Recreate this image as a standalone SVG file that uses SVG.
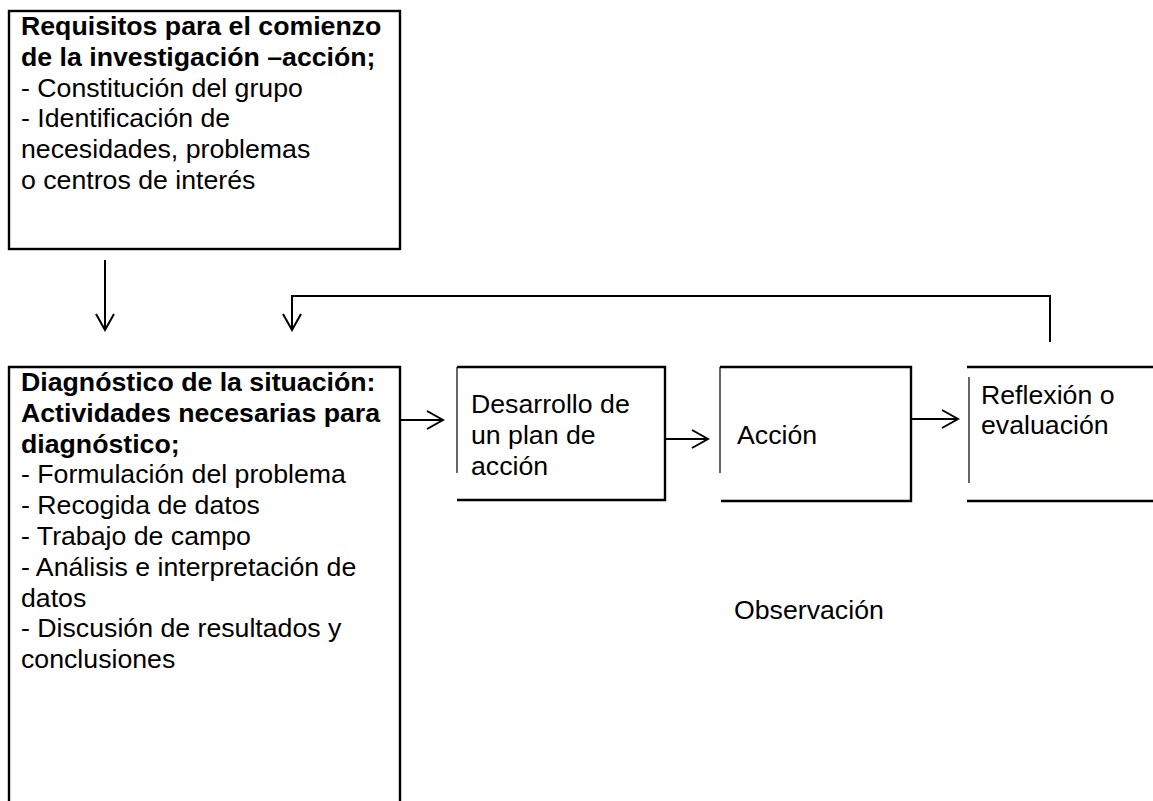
<svg xmlns="http://www.w3.org/2000/svg" width="1153" height="801" viewBox="0 0 1153 801">
  <style>
    .bg { fill: #ffffff; }
    .edge { fill: none; stroke: #000; stroke-width: 2.4; }
    .thin { fill: none; stroke: #000; stroke-width: 1.2; }
    .conn { fill: none; stroke: #000; stroke-width: 2; marker-end: url(#open); }
    text { font-family: "Liberation Sans", Arial, sans-serif; font-size: 26.7px; fill: #000; }
    .b { font-weight: bold; }
  </style>
  <defs>
    <marker id="open" viewBox="0 0 20 20" refX="18" refY="10" markerWidth="20" markerHeight="20" markerUnits="userSpaceOnUse" orient="auto">
      <path d="M2,1 L18,10 L2,19" fill="none" stroke="#000" stroke-width="2"/>
    </marker>
  </defs>
  <rect class="bg" x="0" y="0" width="1153" height="801"/>

  <g id="requisitos">
    <rect class="edge" x="9" y="11" width="391" height="238"/>
    <text x="21" y="35" class="b">Requisitos para el comienzo</text>
    <text x="21" y="65.8" class="b">de la investigación –acción;</text>
    <text x="21" y="96.6">- Constitución del grupo</text>
    <text x="21" y="127.4">- Identificación de</text>
    <text x="21" y="158.2">necesidades, problemas</text>
    <text x="21" y="189">o centros de interés</text>
  </g>

  <g id="diagnostico">
    <path class="edge" d="M9,805 V367 H400 V805"/>
    <text x="21" y="391" class="b">Diagnóstico de la situación:</text>
    <text x="21" y="421.8" class="b">Actividades necesarias para</text>
    <text x="21" y="452.6" class="b">diagnóstico;</text>
    <text x="21" y="483.4">- Formulación del problema</text>
    <text x="21" y="514.2">- Recogida de datos</text>
    <text x="21" y="545">- Trabajo de campo</text>
    <text x="21" y="575.8">- Análisis e interpretación de</text>
    <text x="21" y="606.6">datos</text>
    <text x="21" y="637.4">- Discusión de resultados y</text>
    <text x="21" y="668.2">conclusiones</text>
  </g>

  <g id="plan">
    <path class="edge" d="M457,367 H665 V500 H457"/>
    <path class="thin" d="M457,367 V473"/>
    <text x="471" y="413">Desarrollo de</text>
    <text x="471" y="443.8">un plan de</text>
    <text x="471" y="474.6">acción</text>
  </g>

  <g id="accion">
    <path class="edge" d="M720,367 H911 V501 H721"/>
    <path class="thin" d="M720,367 V473"/>
    <text x="737" y="444">Acción</text>
  </g>

  <g id="reflexion">
    <path class="edge" d="M967,367 H1156 M967,501 H1156"/>
    <path class="thin" d="M969,377 V483"/>
    <text x="981" y="404">Reflexión o</text>
    <text x="981" y="434">evaluación</text>
  </g>

  <g id="observacion">
    <text x="734" y="619">Observación</text>
  </g>

  <g id="connectors">
    <path class="conn" d="M105,260 V330"/>
    <path class="conn" d="M1050,342 V296 H292 V330"/>
    <path class="conn" d="M400,420 H443"/>
    <path class="conn" d="M665,439 H708"/>
    <path class="conn" d="M911,419 H958"/>
  </g>
</svg>
